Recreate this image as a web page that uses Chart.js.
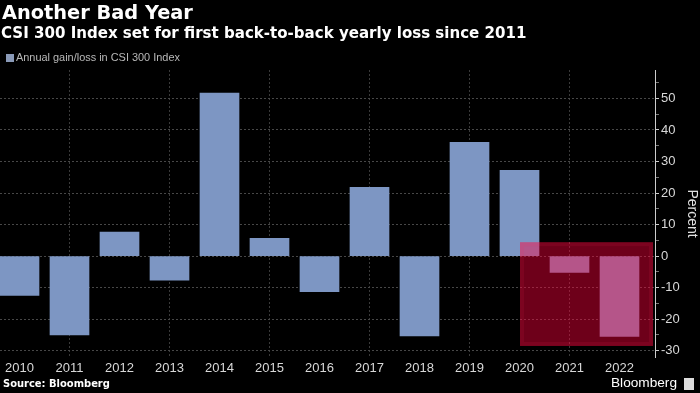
<!DOCTYPE html>
<html><head><meta charset="utf-8">
<script src="https://cdn.jsdelivr.net/npm/chart.js@4/dist/chart.umd.min.js"></script>
<style>
html,body{margin:0;padding:0;background:#000;width:700px;height:393px;overflow:hidden;font-family:"DejaVu Sans",sans-serif;}
#wrap{position:relative;width:700px;height:393px;background:#000;}
canvas{position:absolute;left:0;top:0;}
.t{position:absolute;white-space:nowrap;color:#fff;line-height:1;}
</style></head><body>
<div id="wrap">
<canvas id="c" width="700" height="393"></canvas>
<div class="t fit" data-w="191" style="left:2px;top:3px;font-weight:bold;font-size:20px;">Another Bad Year</div>
<div class="t fit" data-w="526" style="left:1px;top:26px;font-weight:bold;font-size:15px;">CSI 300 Index set for first back-to-back yearly loss since 2011</div>
<div class="t" style="left:6px;top:54px;width:8px;height:8px;background:#8a9ab8;"></div>
<div class="t fit" data-w="164" style="left:16px;top:52px;font-size:11px;color:#b8b8b8;font-family:'Liberation Sans Narrow','Liberation Sans',sans-serif;">Annual gain/loss in CSI 300 Index</div>
<div class="t fit" data-w="107" style="left:3px;top:379px;font-weight:bold;font-size:11px;">Source: Bloomberg</div>
<div class="t fit" data-w="66" style="left:611px;top:376px;font-size:15px;font-family:'Liberation Sans',sans-serif;">Bloomberg</div>
<div class="t" style="left:684px;top:378px;width:10px;height:12px;background:#ddd;"></div>
</div>
<script>
document.querySelectorAll('.fit').forEach(el => {
  const target = parseFloat(el.dataset.w);
  const fs = parseFloat(getComputedStyle(el).fontSize);
  const w = el.getBoundingClientRect().width;
  if (w > 0) el.style.fontSize = (fs * target / w).toFixed(2) + 'px';
});

const years = [2010,2011,2012,2013,2014,2015,2016,2017,2018,2019,2020,2021,2022];
const values = [-12.5,-25.0,7.6,-7.6,51.7,5.6,-11.3,21.8,-25.3,36.1,27.2,-5.2,-25.5];
const yTickValues = [-30,-25,-20,-15,-10,-5,0,5,10,15,20,25,30,35,40,45,50,55];
const highlightYears = [2020.01, 2022.67];
const highlightValues = [-28.5, 4.4];

const highlightPlugin = {
  id: 'highlight',
  afterDatasetsDraw(chart) {
    const {ctx, scales:{x, y}} = chart;
    const x0 = x.getPixelForValue(highlightYears[0]);
    const x1 = x.getPixelForValue(highlightYears[1]);
    const y0 = y.getPixelForValue(highlightValues[1]);
    const y1 = y.getPixelForValue(highlightValues[0]);
    ctx.save();
    ctx.fillStyle = 'rgba(255,0,60,0.43)';
    ctx.fillRect(x0, y0, x1 - x0, y1 - y0);
    ctx.strokeStyle = 'rgba(255,40,90,0.10)';
    ctx.lineWidth = 4;
    ctx.strokeRect(x0 + 2, y0 + 2, x1 - x0 - 4, y1 - y0 - 4);
    ctx.restore();
  }
};

new Chart(document.getElementById('c'), {
  type: 'bar',
  data: {
    datasets: [{
      label: 'Annual gain/loss in CSI 300 Index',
      data: years.map((yr, i) => ({x: yr, y: values[i]})),
      backgroundColor: '#7d96c3',
      borderWidth: 0,
      barThickness: 39
    }]
  },
  options: {
    responsive: false,
    animation: false,
    devicePixelRatio: 1,
    layout: {padding: {top: 70, left: 0, right: 0, bottom: 0}},
    plugins: {legend: {display: false}, tooltip: {enabled: false}},
    scales: {
      x: {
        type: 'linear',
        position: 'bottom',
        offset: false,
        min: 2009.61,
        max: 2022.71,
        afterBuildTicks(scale) { scale.ticks = years.map(v => ({value: v})); },
        afterFit(scale) { scale.height = 36; },
        ticks: {
          color: '#d8d8d8',
          font: {family: 'Liberation Sans', size: 13},
          padding: 4,
          maxRotation: 0,
          autoSkip: false,
          callback: v => String(v)
        },
        grid: {
          offset: false,
          drawTicks: false,
          color: ctx => (ctx.tick && ctx.tick.value % 2 === 1) ? '#3a3a3a' : 'rgba(0,0,0,0)',
          lineWidth: 1
        },
        border: {display: false, dash: [2, 2]}
      },
      y: {
        type: 'linear',
        position: 'right',
        min: -32,
        max: 59,
        afterBuildTicks(scale) { scale.ticks = yTickValues.map(v => ({value: v})); },
        afterFit(scale) { scale.width = 45; },
        ticks: {
          color: '#d8d8d8',
          font: {family: 'Liberation Sans', size: 13},
          padding: 2,
          autoSkip: false,
          callback: v => (v % 10 === 0 ? String(v) : '')
        },
        grid: {
          color: ctx => (ctx.tick && ctx.tick.value % 10 === 0) ? '#474747' : 'rgba(0,0,0,0)',
          tickColor: ctx => (ctx.tick && ctx.tick.value % 10 === 0) ? '#cccccc' : '#777777',
          tickLength: 4,
          lineWidth: 1
        },
        border: {display: true, color: '#cccccc', width: 1, dash: [2, 2]},
        title: {
          display: true,
          text: 'Percent',
          color: '#e0e0e0',
          font: {family: 'Liberation Sans', size: 14},
          padding: 0
        }
      }
    }
  },
  plugins: [highlightPlugin]
});
</script>
</body></html>
